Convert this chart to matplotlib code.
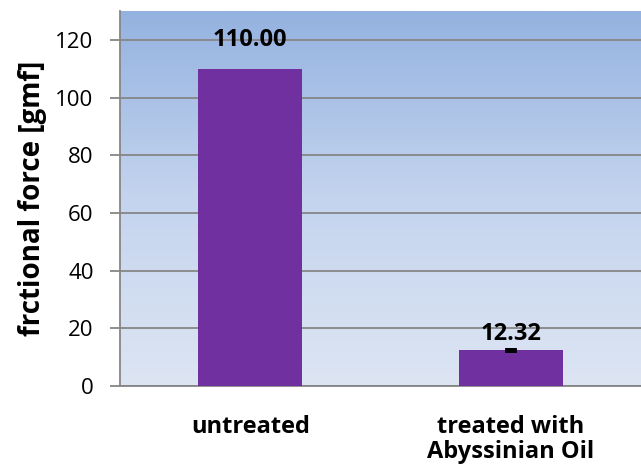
import matplotlib
matplotlib.use("Agg")
import matplotlib.pyplot as plt
import numpy as np
from matplotlib.colors import LinearSegmentedColormap

categories = ["untreated", "treated with\nAbyssinian Oil"]
values = [110.00, 12.32]
errors = [0.0, 1.0]
value_labels = ["110.00", "12.32"]
yticks = [0, 20, 40, 60, 80, 100, 120]

plt.rcParams['font.family'] = ['Open Sans', 'DejaVu Sans']

fig = plt.figure(figsize=(6.41, 4.72), dpi=100)
ax = fig.add_axes([120/641, 1-386/472, 521/641, 375/472])

cmap = LinearSegmentedColormap.from_list("bg", ["#dde5f3", "#c4d4ee", "#94b2e0"])
grad = np.linspace(0, 1, 256).reshape(-1, 1)
ax.imshow(grad, aspect="auto", cmap=cmap, origin="lower",
          extent=[-0.5, 1.5, 0, 130], zorder=0)

x = np.arange(len(categories))
ax.bar(x, values, width=0.4, color="#7030a0", zorder=3)
ax.errorbar(x[1], values[1], yerr=errors[1], fmt="none", ecolor="black",
            elinewidth=8.5, capsize=0, zorder=4)

label_offsets_pt = [21, 12]
for xi, v, lab, off in zip(x, values, value_labels, label_offsets_pt):
    ax.annotate(lab, (xi, v), xytext=(0, off), textcoords="offset points",
                ha="center", va="center", fontsize=17, fontweight="bold",
                color="black", zorder=5)

ax.set_xlim(-0.5, 1.5)
ax.set_ylim(0, 130)
ax.set_yticks(yticks)
ax.yaxis.grid(True, color="#868686", linewidth=1.3, zorder=1)
ax.set_axisbelow(True)

ax.set_xticks(x)
ax.set_xticklabels(categories, fontsize=17, fontweight="bold", linespacing=1.05)
ax.tick_params(axis="x", length=0, pad=21)
ax.tick_params(axis="y", length=7, width=1.3, color="#868686", labelsize=16, pad=12)

for s in ["top", "right"]:
    ax.spines[s].set_visible(False)
for s in ["left", "bottom"]:
    ax.spines[s].set_color("#868686")
    ax.spines[s].set_linewidth(1.3)

ax.set_ylabel("frctional force [gmf]", fontsize=20, fontweight="bold", labelpad=6)

fig.savefig("out.png", dpi=100)
